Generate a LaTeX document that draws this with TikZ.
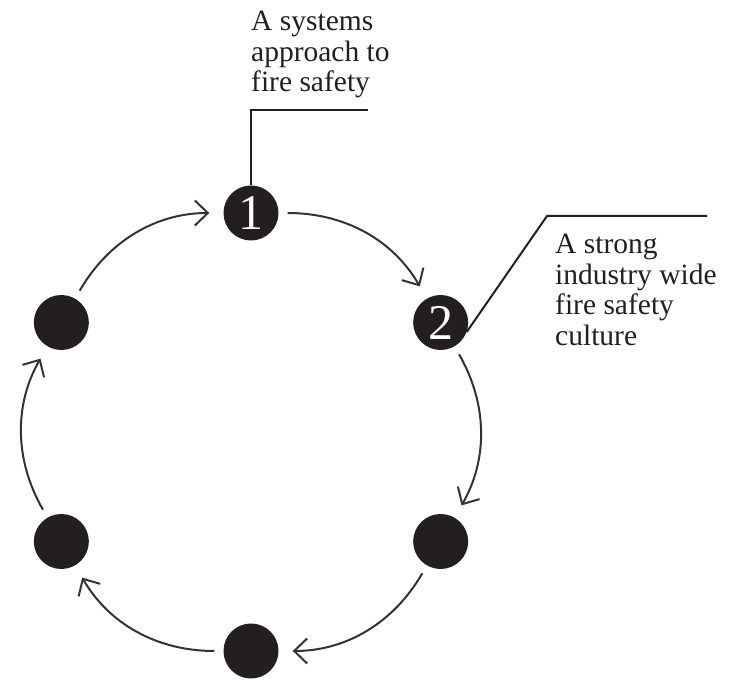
\documentclass[tikz,border=0pt]{standalone}
\usepackage{fontspec}
\setmainfont{Liberation Serif}
\usetikzlibrary{arrows.meta}
\definecolor{ink}{HTML}{231F20}
\definecolor{arcgray}{HTML}{333333}
\begin{document}
\begin{tikzpicture}[x=1pt,y=1pt,
  dot/.style={circle, fill=ink, minimum size=55pt, inner sep=0pt, text=white, font=\fontsize{50}{50}\selectfont},
  cyc/.style={draw=arcgray, line width=2pt, -{Straight Barb[length=13pt,width=25pt]}, shorten <=9pt, shorten >=14pt},
  lead/.style={draw=ink, line width=2pt},
  lbl/.style={anchor=north west, inner sep=0pt, align=left, font=\fontsize{29.5}{30.5}\selectfont, text=ink}]
\useasboundingbox (0,0) rectangle (740,680);
\coordinate (C) at (251,248);
\node[dot] (n1) at ([shift={(90:219)}]C) {1};
\node[dot] (n2) at ([shift={(30:219)}]C) {2};
\node[dot] (n3) at ([shift={(-30:219)}]C) {};
\node[dot] (n4) at ([shift={(-90:219)}]C) {};
\node[dot] (n5) at ([shift={(-150:219)}]C) {};
\node[dot] (n6) at ([shift={(150:219)}]C) {};
\draw[cyc] (n1) to[bend left=30] (n2);
\draw[cyc] (n2) to[bend left=30] (n3);
\draw[cyc] (n3) to[bend left=30] (n4);
\draw[cyc] (n4) to[bend left=30] (n5);
\draw[cyc] (n5) to[bend left=30] (n6);
\draw[cyc] (n6) to[bend left=30] (n1);
\node[lbl] (t1) at (251,669) {A systems\\approach to\\fire safety};
\node[lbl] (t2) at (555,446) {A strong\\industry wide\\fire safety\\culture};
\coordinate (l1) at (368,570);
\draw[lead] (n1.north) |- (l1);
\coordinate (l2a) at (547,464);
\coordinate (l2b) at (707,464);
\draw[lead] (n2.-20) -- (l2a) -- (l2b);
\end{tikzpicture}
\end{document}
